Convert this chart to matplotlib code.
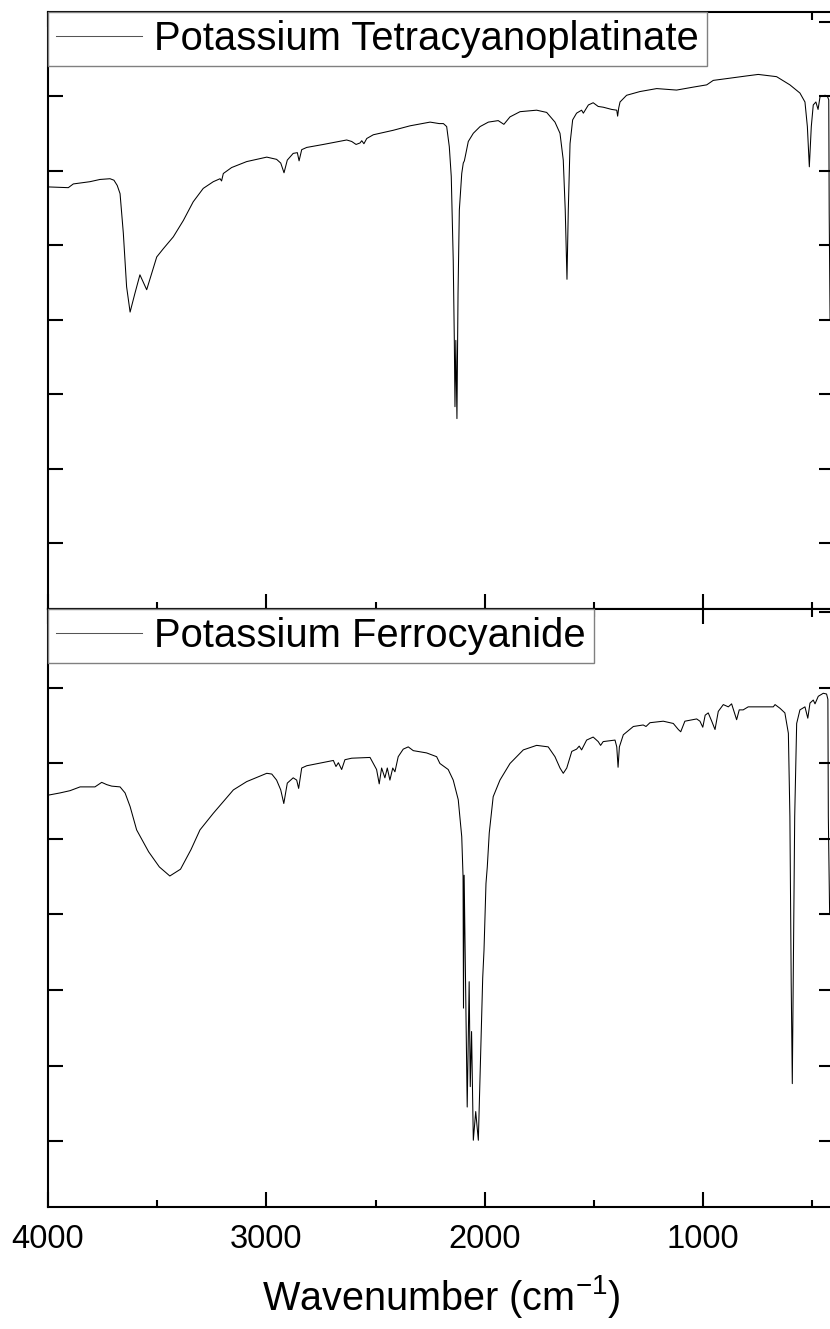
import matplotlib
matplotlib.use("Agg")
import matplotlib.pyplot as plt
from matplotlib.ticker import MultipleLocator, NullFormatter
import numpy as np

plt.rcParams['font.family'] = ['Liberation Sans', 'DejaVu Sans']
plt.rcParams['mathtext.fontset'] = 'custom'
plt.rcParams['mathtext.rm'] = 'Liberation Sans'
plt.rcParams['mathtext.it'] = 'Liberation Sans:italic'

# K2[Pt(CN)4] spectrum, wavenumber (cm-1) vs transmittance (a.u.)
pt_wn = [4000, 3907, 3884, 3808, 3762, 3716, 3698, 3683, 3670, 3655, 3640, 3624,
         3602, 3579, 3548, 3525, 3502, 3472, 3426, 3380, 3335, 3289, 3243, 3212,
         3205, 3197, 3159, 3090, 2998, 2953, 2934, 2919, 2904, 2877, 2858, 2850,
         2838, 2815, 2739, 2632, 2609, 2589, 2571, 2563, 2553, 2540, 2510, 2419,
         2342, 2250, 2208, 2189, 2174, 2162, 2153, 2144, 2139, 2136, 2132, 2127,
         2122, 2116, 2105, 2098, 2093, 2086, 2075, 2052, 2021, 1983, 1938, 1912,
         1884, 1838, 1762, 1716, 1678, 1655, 1640, 1631, 1623, 1617, 1609, 1597,
         1579, 1556, 1548, 1525, 1503, 1480, 1457, 1418, 1395, 1391, 1386, 1380,
         1350, 1289, 1212, 1121, 1044, 983, 953, 876, 800, 747, 663, 602,
         556, 533, 522, 513, 504, 495, 483, 473, 464, 441, 431, 424,
         422, 418]
pt_t = [57.8, 57.7, 58.2, 58.5, 58.8, 58.9, 58.7, 58.0, 56.9, 51.6, 44.4, 41.0,
        43.5, 46.0, 44.0, 46.2, 48.4, 49.5, 51.1, 53.3, 55.8, 57.6, 58.5, 58.9,
        58.6, 59.6, 60.4, 61.2, 61.8, 61.5, 61.0, 59.7, 61.4, 62.3, 62.4, 61.3,
        62.8, 63.1, 63.5, 64.1, 63.9, 63.5, 63.7, 64.0, 63.6, 64.3, 64.8, 65.4,
        66.0, 66.5, 66.3, 66.3, 65.9, 63.2, 59.2, 48.0, 37.2, 28.3, 37.2, 26.7,
        43.5, 54.7, 59.6, 61.0, 61.3, 62.3, 63.9, 65.0, 65.9, 66.5, 66.7, 66.2,
        67.2, 67.9, 68.1, 67.8, 66.5, 65.0, 61.4, 54.7, 45.4, 54.7, 63.6, 66.8,
        67.7, 68.1, 67.7, 68.8, 69.1, 68.6, 68.5, 68.2, 68.1, 67.3, 68.4, 69.2,
        70.1, 70.6, 71.0, 70.8, 71.2, 71.5, 72.1, 72.4, 72.7, 72.9, 72.6, 71.5,
        70.4, 69.2, 65.9, 60.5, 65.9, 68.8, 69.2, 68.2, 69.9, 70.1, 70.0, 69.5,
        54.3, 40.0]

# K4[Fe(CN)6] spectrum
fe_wn = [4000, 3945, 3899, 3853, 3808, 3785, 3754, 3731, 3708, 3670, 3647, 3624,
         3594, 3539, 3490, 3442, 3393, 3345, 3304, 3243, 3151, 3090, 2998, 2975,
         2953, 2934, 2920, 2904, 2877, 2861, 2852, 2838, 2815, 2693, 2681, 2670,
         2655, 2640, 2609, 2525, 2510, 2495, 2483, 2472, 2457, 2446, 2434, 2421,
         2411, 2396, 2373, 2350, 2327, 2266, 2220, 2205, 2167, 2144, 2121, 2105,
         2099, 2097, 2094, 2080, 2071, 2066, 2060, 2052, 2041, 2029, 2018, 2009,
         2003, 1994, 1988, 1979, 1961, 1930, 1884, 1823, 1762, 1709, 1678, 1655,
         1640, 1624, 1601, 1579, 1567, 1556, 1533, 1503, 1480, 1469, 1457, 1403,
         1395, 1389, 1383, 1365, 1319, 1274, 1261, 1243, 1182, 1136, 1113, 1102,
         1083, 1029, 1014, 1001, 990, 976, 960, 945, 930, 907, 884, 869,
         858, 846, 834, 816, 793, 739, 678, 670, 647, 625, 609, 602,
         596, 591, 587, 580, 571, 556, 533, 520, 510, 495, 487, 472,
         449, 434, 428, 426, 420]
fe_t = [55.8, 56.1, 56.4, 56.9, 56.9, 56.9, 57.5, 57.2, 57.0, 56.9, 56.1, 54.3,
        51.2, 48.3, 46.3, 45.1, 46.0, 48.6, 51.2, 53.4, 56.5, 57.6, 58.7, 58.6,
        57.8, 56.5, 54.7, 57.4, 58.1, 57.8, 56.7, 59.4, 59.7, 60.4, 59.6, 60.1,
        59.2, 60.5, 60.7, 60.8, 60.0, 59.2, 57.3, 59.4, 58.1, 59.4, 57.8, 59.4,
        58.9, 60.9, 61.9, 62.2, 61.7, 61.4, 60.9, 60.0, 59.2, 57.8, 55.2, 50.3,
        45.0, 27.6, 45.2, 14.5, 31.1, 17.2, 24.5, 10.1, 13.9, 10.1, 22.1, 31.6,
        35.3, 44.1, 46.3, 50.8, 55.6, 57.8, 60.0, 61.8, 62.4, 62.2, 60.9, 59.4,
        58.7, 59.4, 61.6, 61.9, 62.3, 61.8, 63.1, 63.5, 62.9, 62.4, 62.9, 63.1,
        62.2, 59.5, 62.2, 63.8, 64.9, 65.1, 64.9, 65.4, 65.6, 65.3, 64.5, 64.2,
        65.6, 65.9, 65.6, 64.8, 66.4, 66.7, 65.6, 64.5, 66.9, 67.8, 67.5, 67.9,
        66.9, 65.8, 67.1, 67.1, 67.5, 67.5, 67.5, 67.8, 67.3, 66.7, 64.0, 53.0,
        30.9, 17.6, 30.9, 53.0, 65.3, 67.1, 67.5, 66.0, 68.0, 68.4, 67.9, 68.9,
        69.3, 69.2, 68.5, 53.0, 40.0]

panels = [
    (pt_wn, pt_t, "Potassium Tetracyanoplatinate", (1.14, 81.28)),
    (fe_wn, fe_t, "Potassium Ferrocyanide", (1.26, 80.46)),
]

fig = plt.figure(figsize=(8.30, 13.29), dpi=100)
W, H = 830.0, 1329.0
boxes = [
    [48 / W, 1 - 609 / H, 786 / W, 597 / H],
    [48 / W, 1 - 1207 / H, 786 / W, 598 / H],
]

for i, (wn, t, name, ylim) in enumerate(panels):
    ax = fig.add_axes(boxes[i])
    ax.plot(wn, t, color='black', lw=0.75, label=name)
    ax.set_xlim(4000, 400)
    ax.set_ylim(*ylim)
    ax.xaxis.set_major_locator(MultipleLocator(1000))
    ax.xaxis.set_minor_locator(MultipleLocator(500))
    ax.yaxis.set_major_locator(MultipleLocator(10))
    ax.tick_params(which='both', direction='in', top=True, right=True, width=1.5)
    ax.tick_params(which='major', length=10.8, labelsize=23.5, pad=12)
    ax.tick_params(which='minor', length=5.4)
    ax.yaxis.set_major_formatter(NullFormatter())
    for sp in ax.spines.values():
        sp.set_linewidth(1.5)
    if i == 0:
        ax.xaxis.set_major_formatter(NullFormatter())
    else:
        ax.set_xlabel('Wavenumber (cm$^{-1}$)', fontsize=28.5, labelpad=13)
    leg = ax.legend(loc='upper left', borderaxespad=0, fontsize=28.8,
                    fancybox=False, framealpha=1, edgecolor='#808080',
                    handlelength=2.15, handletextpad=0.3, borderpad=0.2)
    leg.get_frame().set_linewidth(1.0)
    leg.get_lines()[0].set_color('#555555')

fig.savefig('out.png', dpi=100)
